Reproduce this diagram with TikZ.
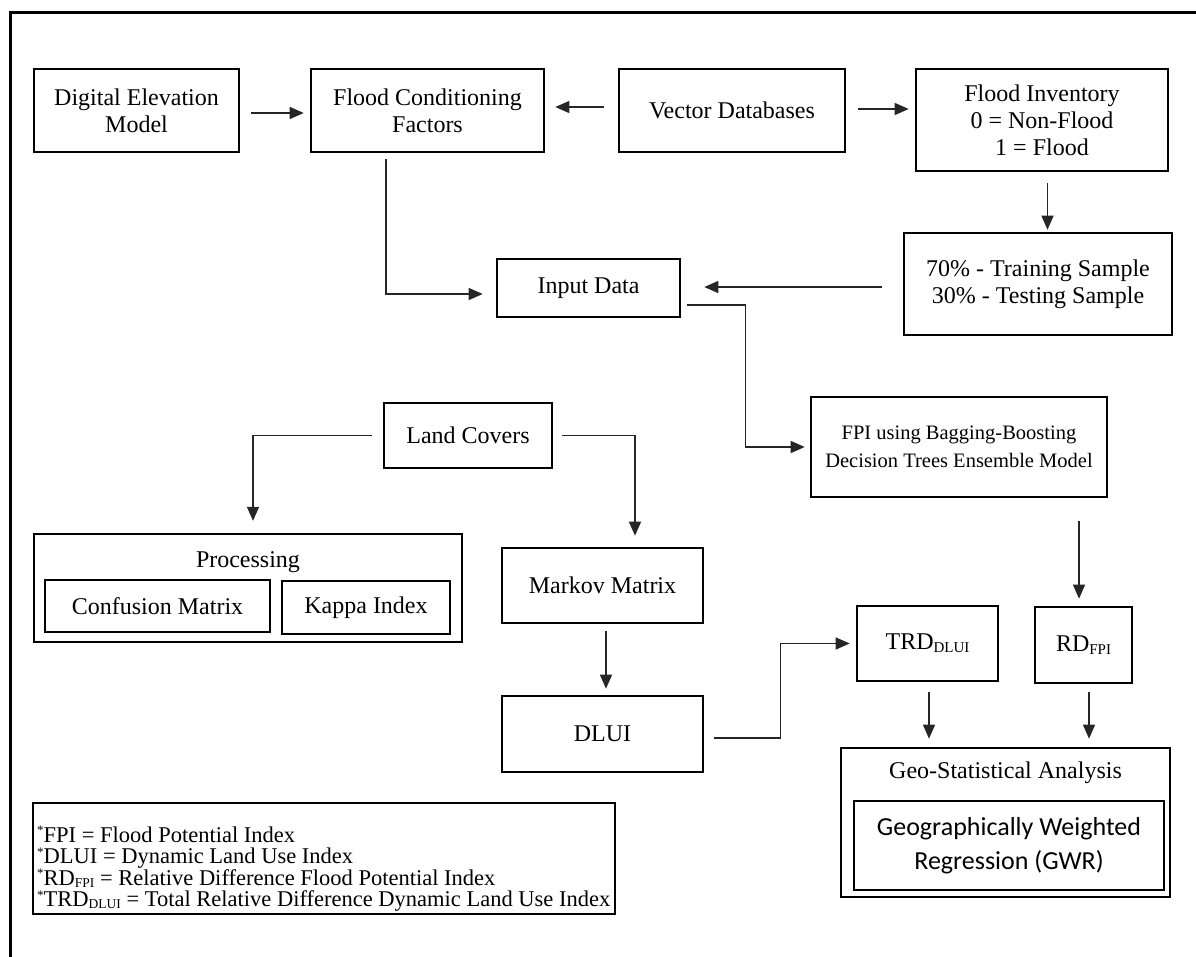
\documentclass[tikz,border=0pt]{standalone}
\usepackage{fontspec}
\setmainfont{Liberation Serif}
\newfontfamily\calibrifont{Carlito}
\usetikzlibrary{arrows.meta}
% small lowered index letters, e.g. RD with FPI
\newcommand\lowsub[1]{\raisebox{-0.3ex}{\fontsize{15}{15}\selectfont #1}}
\newcommand\keysub[1]{\raisebox{-0.2ex}{\fontsize{13.5}{13.5}\selectfont #1}}
% small raised asterisk of the key entries
\newcommand\keymark{\raisebox{0.7ex}{\fontsize{13}{13}\selectfont *}}
\begin{document}
\begin{tikzpicture}[x=1pt,y=-1pt,
  box/.style={draw, line width=2.6pt, inner sep=0pt, align=center,
              font=\fontsize{24}{27}\selectfont},
  title/.style={inner sep=0pt, font=\fontsize{24}{27}\selectfont},
  arr/.style={line width=1.4pt, draw=black!85,
              -{Triangle[length=14pt,width=12pt]}}]
\useasboundingbox (0,0) rectangle (1196,956);

% outer frame (left and top edges)
\draw[line width=3pt] (10,970) -- (10,12) -- (1210,12);

% ---- upper row ----
\node[box, minimum width=205pt, minimum height=83pt] (dem) at (136.5,110.5) {Digital Elevation\\Model};
\node[box, minimum width=233pt, minimum height=83pt] (fcf) at (427.5,110.5) {Flood Conditioning\\Factors};
\node[box, minimum width=226pt, minimum height=83pt] (vec) at (732,110.5) {Vector Databases};
\node[box, minimum width=252pt, minimum height=102pt] (inv) at (1042,120) {Flood Inventory\\0 = Non-Flood\\1 = Flood};
\node[box, minimum width=268pt, minimum height=102pt] (smp) at (1038,284) {70\% - Training Sample\\30\% - Testing Sample};
\node[box, minimum width=183pt, minimum height=58pt] (inp) at (588.5,288) {Input Data};
\node[box, minimum width=296pt, minimum height=100pt, font=\fontsize{20.5}{28}\selectfont] (fpi) at (959,447)
     {FPI using Bagging-Boosting\\Decision Trees Ensemble Model};

% ---- land cover branch ----
\node[box, minimum width=168pt, minimum height=65pt] (lc) at (468,435.5) {Land Covers};
\node[box, line width=2.4pt, minimum width=428pt, minimum height=108pt] (proc) at (248,588) {};
\node[title] (proctitle) at (248,562) {Processing};
\node[box, minimum width=225pt, minimum height=52pt] (conf) at (157.5,606) {Confusion Matrix};
\node[box, minimum width=168pt, minimum height=53pt] (kap) at (366,607.5) {Kappa Index};
\node[box, minimum width=201pt, minimum height=75pt] (mkv) at (602.5,585.5) {Markov Matrix};
\node[box, minimum width=201pt, minimum height=76pt] (dlui) at (602.5,734) {DLUI};

% ---- indices and analysis ----
\node[box, minimum width=141pt, minimum height=75pt] (trd) at (927.5,643.5) {TRD\lowsub{DLUI}};
\node[box, minimum width=97pt, minimum height=76pt] (rd) at (1083.5,645) {RD\lowsub{FPI}};
\node[box, minimum width=329pt, minimum height=149pt] (geo) at (1005.5,822.5) {};
\node[title] (geotitle) at (1005.5,773) {Geo-Statistical Analysis};
\node[box, minimum width=310pt, minimum height=89pt,
      font=\calibrifont\fontsize{26}{34}\selectfont] (gwr) at (1009,845.5)
      {Geographically Weighted\\Regression (GWR)};

% ---- key ----
\node[box, minimum width=582pt, minimum height=111pt] (key) at (324,858.5) {};
\node[inner sep=0pt, anchor=west, align=left,
      font=\fontsize{22.5}{21.5}\selectfont] (keytext) at (37,869)
  {\keymark FPI = Flood Potential Index\\
   \keymark DLUI = Dynamic Land Use Index\\
   \keymark RD\keysub{FPI} = Relative Difference Flood Potential Index\\
   \keymark TRD\keysub{DLUI} = Total Relative Difference Dynamic Land Use Index};

% ---- connectors ----
\draw[arr, shorten <=11pt, shorten >=6pt] ([yshift=-2.5pt]dem.east) -- ([yshift=-2.5pt]fcf.west);
\draw[arr, shorten <=14pt, shorten >=10pt] ([yshift=3.5pt]vec.west) -- ([yshift=3.5pt]fcf.east);
\draw[arr, shorten <=12pt, shorten >=6pt] ([yshift=1.5pt]vec.east) -- ([yshift=1.5pt]vec.east -| inv.west);
\draw[arr, shorten <=11pt, shorten >=2pt] ([xshift=5.5pt]inv.south) -- ([xshift=5.5pt]inv.south |- smp.north);
\draw[arr, shorten <=21pt, shorten >=23pt] ([yshift=-3pt]smp.west) -- ([yshift=-3pt]smp.west -| inp.east);
\draw[arr, shorten >=13pt] ([xshift=-41.5pt,yshift=-6pt]fcf.south) |- ([yshift=-6pt]inp.west);
\draw[arr, shorten >=5pt] ([xshift=6pt,yshift=-17pt]inp.east) -| ([xshift=-64pt]fpi.west) -- (fpi.west);
\draw[arr, shorten <=23pt, shorten >=7pt] ([xshift=-4.5pt]rd.north |- fpi.south) -- ([xshift=-4.5pt]rd.north);
\draw[arr, shorten <=10pt, shorten >=8pt] ([xshift=1.5pt]trd.south) -- ([xshift=1.5pt]trd.south |- geo.north);
\draw[arr, shorten <=8pt, shorten >=8pt] ([xshift=5.5pt]rd.south) -- ([xshift=5.5pt]rd.south |- geo.north);
\draw[arr, shorten >=6pt] ([xshift=10pt,yshift=-4pt]dlui.east) -| ([xshift=-75pt]trd.west) -- (trd.west);
\draw[arr, shorten >=12pt] ([xshift=-11pt]lc.west) -| ([xshift=5pt]proc.north);
\draw[arr, shorten >=11pt] ([xshift=9pt]lc.east) -| ([xshift=32.5pt]mkv.north);
\draw[arr, shorten <=7pt, shorten >=6pt] ([xshift=3.5pt]mkv.south) -- ([xshift=3.5pt]dlui.north);
\end{tikzpicture}
\end{document}
